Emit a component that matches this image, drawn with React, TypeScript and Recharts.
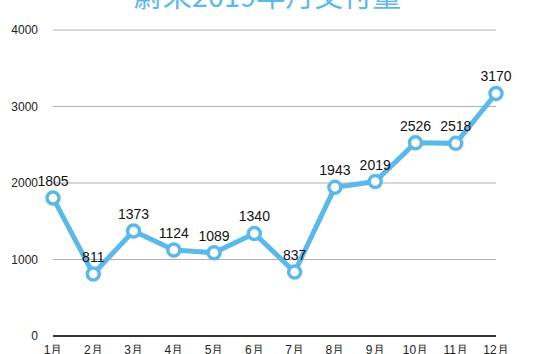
import React from "react";
import { LineChart, Line, XAxis, YAxis, CartesianGrid, LabelList } from "recharts";

const months = ["1月", "2月", "3月", "4月", "5月", "6月", "7月", "8月", "9月", "10月", "11月", "12月"];
const deliveries = [1805, 811, 1373, 1124, 1089, 1340, 837, 1943, 2019, 2526, 2518, 3170];
const yTicks = [0, 1000, 2000, 3000, 4000];
const title = "蔚来2019年月交付量";

const data = months.map((m, i) => ({ month: m, value: deliveries[i] }));

const FONT = '"Liberation Sans", Arial, Helvetica, sans-serif';
const BLUE = "#5bb8ea";

export default function App() {
  return (
    <div style={{ position: "absolute", left: 0, top: 0, width: 535, height: 354, overflow: "hidden", background: "#fff" }}>
      <div
        style={{
          position: "absolute",
          left: 0,
          width: 535,
          top: -26,
          textAlign: "center",
          fontFamily: '"Noto Sans CJK SC", "Liberation Sans", sans-serif',
          fontSize: 29,
          lineHeight: "40px",
          color: BLUE,
        }}
      >
        {title}
      </div>
      <LineChart
        width={535}
        height={354}
        data={data}
        margin={{ top: 30, right: 39, bottom: 0, left: 0 }}
        style={{ fontFamily: FONT }}
      >
        <CartesianGrid vertical={false} stroke="#b0b0b0" strokeWidth={1} />
        <XAxis
          dataKey="month"
          height={18}
          tickLine={false}
          tickSize={0}
          tickMargin={9}
          axisLine={{ stroke: "#000", strokeWidth: 1.5 }}
          tick={{ fontSize: 12, fill: "#222" }}
          interval={0}
          padding={{ left: 0, right: 0 }}
        />
        <YAxis
          width={53}
          domain={[0, 4000]}
          ticks={yTicks}
          axisLine={false}
          tickLine={false}
          tickSize={0}
          tickMargin={15}
          tick={{ fontSize: 12, fill: "#222" }}
        />
        <Line
          type="linear"
          dataKey="value"
          stroke={BLUE}
          strokeWidth={5}
          dot={{ r: 6, stroke: BLUE, strokeWidth: 3.5, fill: "#fff" }}
          isAnimationActive={false}
        >
          <LabelList dataKey="value" position="top" offset={12} style={{ fontSize: 14, fill: "#111" }} />
        </Line>
      </LineChart>
    </div>
  );
}
